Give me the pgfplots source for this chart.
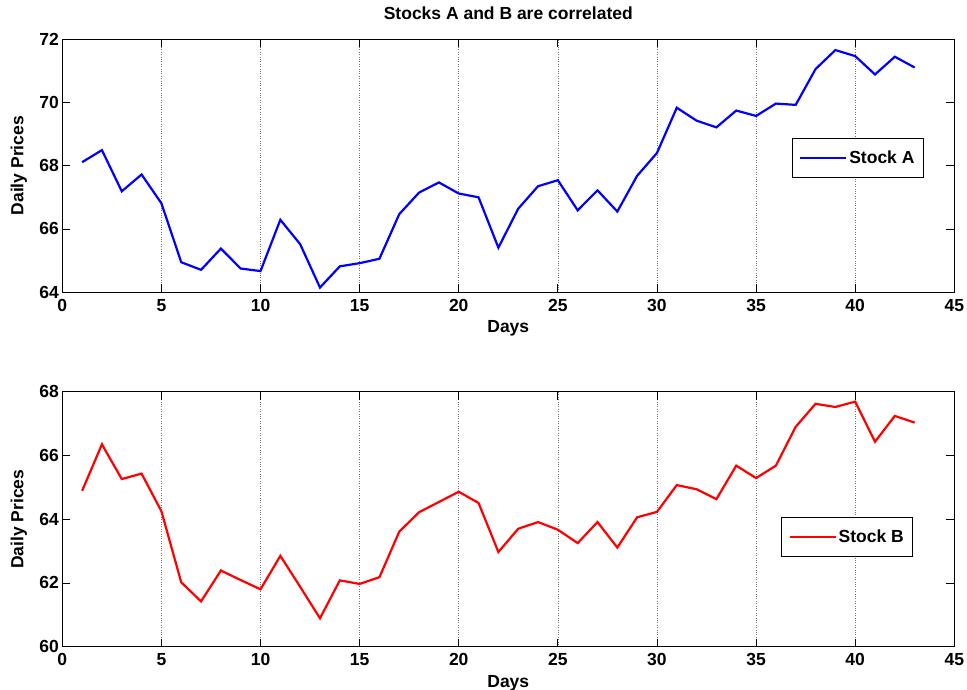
\documentclass[border=0pt]{standalone}
\usepackage{pgfplots}
\pgfplotsset{compat=1.18}
\usepackage{fontspec}
\setmainfont{Liberation Sans}
\newcommand{\lf}{\fontsize{17.5}{20}\selectfont\bfseries}
\pgfplotstableread{
x a b
1 68.11 64.89
2 68.49 66.35
3 67.19 65.26
4 67.72 65.43
5 66.81 64.25
6 64.95 62.02
7 64.71 61.42
8 65.38 62.39
9 64.75 62.09
10 64.67 61.80
11 66.29 62.85
12 65.52 61.88
13 64.15 60.89
14 64.82 62.08
15 64.92 61.97
16 65.06 62.18
17 66.47 63.61
18 67.15 64.22
19 67.47 64.54
20 67.12 64.86
21 67.00 64.51
22 65.41 62.97
23 66.64 63.70
24 67.35 63.91
25 67.54 63.67
26 66.59 63.25
27 67.22 63.91
28 66.55 63.11
29 67.68 64.06
30 68.40 64.23
31 69.83 65.07
32 69.42 64.94
33 69.21 64.63
34 69.74 65.68
35 69.57 65.29
36 69.96 65.68
37 69.92 66.90
38 71.05 67.62
39 71.65 67.52
40 71.46 67.69
41 70.88 66.43
42 71.44 67.24
43 71.10 67.03
}\data
\pgfplotsset{
  common/.style={
    scale only axis, width=892pt,
    xmin=0, xmax=45, xtick={0,5,...,45},
    axis line style={black, line width=1pt},
    every tick/.style={black, line width=0.8pt},
    major tick length=8pt,
    xmajorgrids,
    grid style={black!55, dotted, line width=0.6pt},
    /pgf/number format/assume math mode=true,
    ticklabel style={font=\lf},
    xticklabel style={anchor=base, yshift=-18.8pt},
    label style={font=\lf},
    xlabel style={at={(axis description cs:0.5,0)}, anchor=base, yshift=-40.5pt},
    ylabel style={at={(axis description cs:-0.0486,0.5)}, anchor=center},
    xlabel={Days}, ylabel={Daily Prices},
    legend cell align=left,
    legend image code/.code={\draw[#1] (0pt,0pt) -- (46pt,0pt);},
  }
}
\begin{document}
\begin{tikzpicture}[x=1pt,y=1pt]
\path[use as bounding box] (0,0) rectangle (967,689);
\begin{axis}[common,
  at={(62.3pt,396.7pt)}, anchor=south west, height=253.3pt,
  ymin=64, ymax=72, ytick={64,66,...,72},
  title={Stocks A and B are correlated},
  title style={font=\lf, at={(axis description cs:0.5,1)}, anchor=base, yshift=13.7pt},
  legend style={at={(0.966,0.530)}, anchor=east, draw=black, line width=1pt, font=\lf, inner xsep=7pt, inner ysep=10pt},
]
\addplot[blue, line width=2.2pt] table[x=x, y=a] {\data};
\addlegendentry{Stock A}
\end{axis}
\begin{axis}[common,
  at={(62.3pt,42.3pt)}, anchor=south west, height=255pt,
  ymin=60, ymax=68, ytick={60,62,...,68},
  legend style={at={(0.954,0.430)}, anchor=east, draw=black, line width=1pt, font=\lf, inner xsep=7pt, inner ysep=10pt},
]
\addplot[red, line width=2.2pt] table[x=x, y=b] {\data};
\addlegendentry{Stock B}
\end{axis}
\end{tikzpicture}
\end{document}
